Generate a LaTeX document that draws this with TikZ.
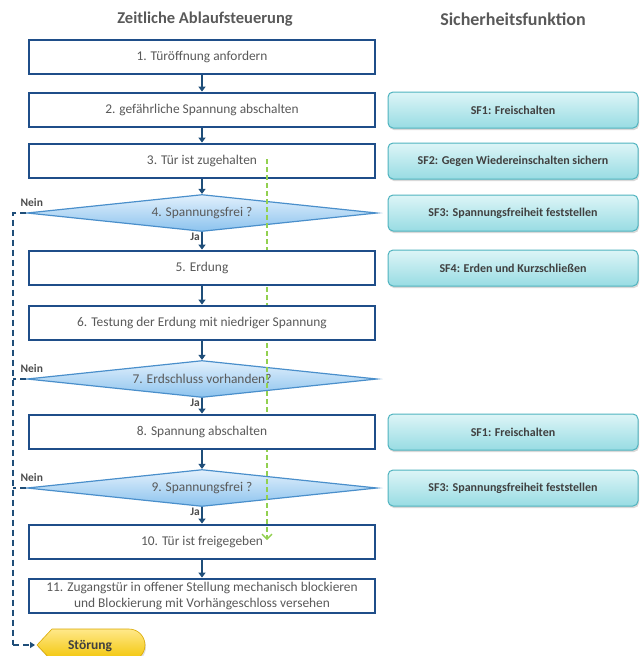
\documentclass[tikz,border=0pt]{standalone}
\usepackage{fontspec}
\setmainfont{Carlito}
\tikzset{font={\fontsize{13.4pt}{16}\selectfont}}
\usetikzlibrary{
	calc,
	arrows.meta,
	shapes,
	positioning,
	shadows
	}
\definecolor{ablauf}{HTML}{1F4E89}
\definecolor{pfeil}{HTML}{1F4E79}
\definecolor{schrift}{HTML}{595959}
\definecolor{raute}{HTML}{4A8FCB}
\definecolor{rauteoben}{HTML}{E2F0FC}
\definecolor{rauteunten}{HTML}{8CC3EE}
\definecolor{sfrand}{HTML}{4FB3BF}
\definecolor{sfoben}{HTML}{DDF5F7}
\definecolor{sfunten}{HTML}{98DCE3}
\definecolor{gruen}{HTML}{92D050}
\definecolor{stoerrand}{HTML}{D9A800}
\definecolor{stoeroben}{HTML}{FFE88A}
\definecolor{stoerunten}{HTML}{F2C400}
\tikzstyle{schritt}=[draw=ablauf,line width=2.8pt,fill=white,minimum width=346pt,minimum height=34pt,text=schrift,align=center,inner sep=2pt]
\tikzstyle{frage}=[diamond,draw=raute,line width=1.2pt,top color=rauteoben,bottom color=rauteunten,minimum width=350pt,minimum height=37pt,aspect=9,inner sep=1pt,text=schrift]
\tikzstyle{sf-box}=[draw=sfrand,line width=1pt,rounded corners=5pt,top color=sfoben,bottom color=sfunten,minimum width=250pt,minimum height=36pt,text=black!75,font={\fontsize{12pt}{14}\selectfont\bfseries},drop shadow={opacity=0.3,shadow xshift=1pt,shadow yshift=-2pt}]
\tikzstyle{titel}=[text=schrift,font={\fontsize{16.5pt}{19}\selectfont\bfseries}]
\tikzstyle{pfeil-std}=[draw=pfeil,line width=1.8pt,-{Triangle[width=7pt,length=5pt]}]
\tikzstyle{nein-weg}=[draw=pfeil,line width=1.3pt,dash pattern=on 6pt off 4pt]
\tikzstyle{zweig}=[text=black!70,font={\fontsize{11.5pt}{13}\selectfont\bfseries},inner sep=0pt]
\tikzstyle{stoer-form}=[draw=stoerrand,line width=0.6pt,top color=stoeroben,bottom color=stoerunten,drop shadow={opacity=0.25,shadow xshift=1pt,shadow yshift=-2pt}]

\begin{document}
\begin{tikzpicture}[x=1pt,y=1pt]
            \useasboundingbox (0,0) rectangle (641,-656);
            \node[titel] (t-ablauf) at (205,-19) {Zeitliche Ablaufsteuerung};
            \node[titel,font={\fontsize{18pt}{21}\selectfont\bfseries}] (t-sicher) at (513,-19) {Sicherheitsfunktion};
            %
            \node[schritt] (s3) at (202,-161) {3. Tür ist zugehalten};
            \node[schritt] (s10) at (202,-542) {10. Tür ist freigegeben};
            \node[frage] (f4) at (202,-213) {4. Spannungsfrei ?};
            \node[frage] (f7) at (202,-379) {7. Erdschluss vorhanden?};
            \node[frage] (f9) at (202,-488) {9. Spannungsfrei ?};

            \draw[gruen,line width=1.3pt,dash pattern=on 5pt off 3pt,-{Straight Barb[length=5pt,width=10pt]}] ($(s3.center)+(65,2)$) -- ($(s10.center)+(65,2)$);

            \node[schritt] (s1) at (202,-57) {1. Türöffnung anfordern};
            \node[schritt] (s2) at (202,-110) {2. gefährliche Spannung abschalten};
            \node[schritt] (s5) at (202,-268) {5. Erdung};
            \node[schritt] (s6) at (202,-323) {6. Testung der Erdung mit niedriger Spannung};
            \node[schritt] (s8) at (202,-432) {8. Spannung abschalten};
            \node[schritt] (s11) at (202,-596) {11. Zugangstür in offener Stellung mechanisch blockieren\\und Blockierung mit Vorhängeschloss versehen};
            %
            \draw[pfeil-std] (s1) -- (s2);
            \draw[pfeil-std] (s2) -- (s3);
            \draw[pfeil-std] (s3) -- (f4);
            \draw[pfeil-std] (f4) -- (s5);
            \draw[pfeil-std] (s5) -- (s6);
            \draw[pfeil-std] (s6) -- (f7);
            \draw[pfeil-std] (f7) -- (s8);
            \draw[pfeil-std] (s8) -- (f9);
            \draw[pfeil-std] (f9) -- (s10);
            \draw[pfeil-std] (s10) -- (s11);
            %
            \node[zweig,anchor=east] (ja4) at ($(f4.south)+(-2,-5)$) {Ja};
            \node[zweig,anchor=east] (ja7) at ($(f7.south)+(-2,-5)$) {Ja};
            \node[zweig,anchor=east] (ja9) at ($(f9.south)+(-2,-5)$) {Ja};
            \node[zweig,anchor=south west] (nein4) at ($(f4.west)+(-6,6)$) {Nein};
            \node[zweig,anchor=south west] (nein7) at ($(f7.west)+(-6,6)$) {Nein};
            \node[zweig,anchor=south west] (nein9) at ($(f9.west)+(-6,6)$) {Nein};
            %
            \coordinate (schiene) at (13,-645);
            \coordinate (stoer-spitze) at (37,-645);
            \path[stoer-form] (stoer-spitze) -- ++(15,16) -- ++(77,0) arc[start angle=90,end angle=-90,radius=16] -- ++(-77,0) -- cycle;
            \node[text=black!75,font={\fontsize{13.5pt}{16}\selectfont\bfseries}] (stoer) at ($(stoer-spitze)+(53,-1)$) {Störung};
            \draw[nein-weg] (f4.west) -- (f4.west -| schiene) -- (schiene);
            \draw[nein-weg] (f7.west) -- (f7.west -| schiene);
            \draw[nein-weg] (f9.west) -- (f9.west -| schiene);
            \draw[nein-weg,-{Triangle[width=6pt,length=5pt]}] (schiene) -- ($(stoer-spitze)+(-2,0)$);
            %
            \node[sf-box] (sf1a) at (513,-110) {SF1: Freischalten};
            \node[sf-box] (sf2) at (513,-161) {SF2: Gegen Wiedereinschalten sichern};
            \node[sf-box] (sf3a) at (513,-213) {SF3: Spannungsfreiheit feststellen};
            \node[sf-box] (sf4) at (513,-268) {SF4: Erden und Kurzschließen};
            \node[sf-box] (sf1b) at (513,-432) {SF1: Freischalten};
            \node[sf-box] (sf3b) at (513,-488) {SF3: Spannungsfreiheit feststellen};
        \end{tikzpicture}
\end{document}
